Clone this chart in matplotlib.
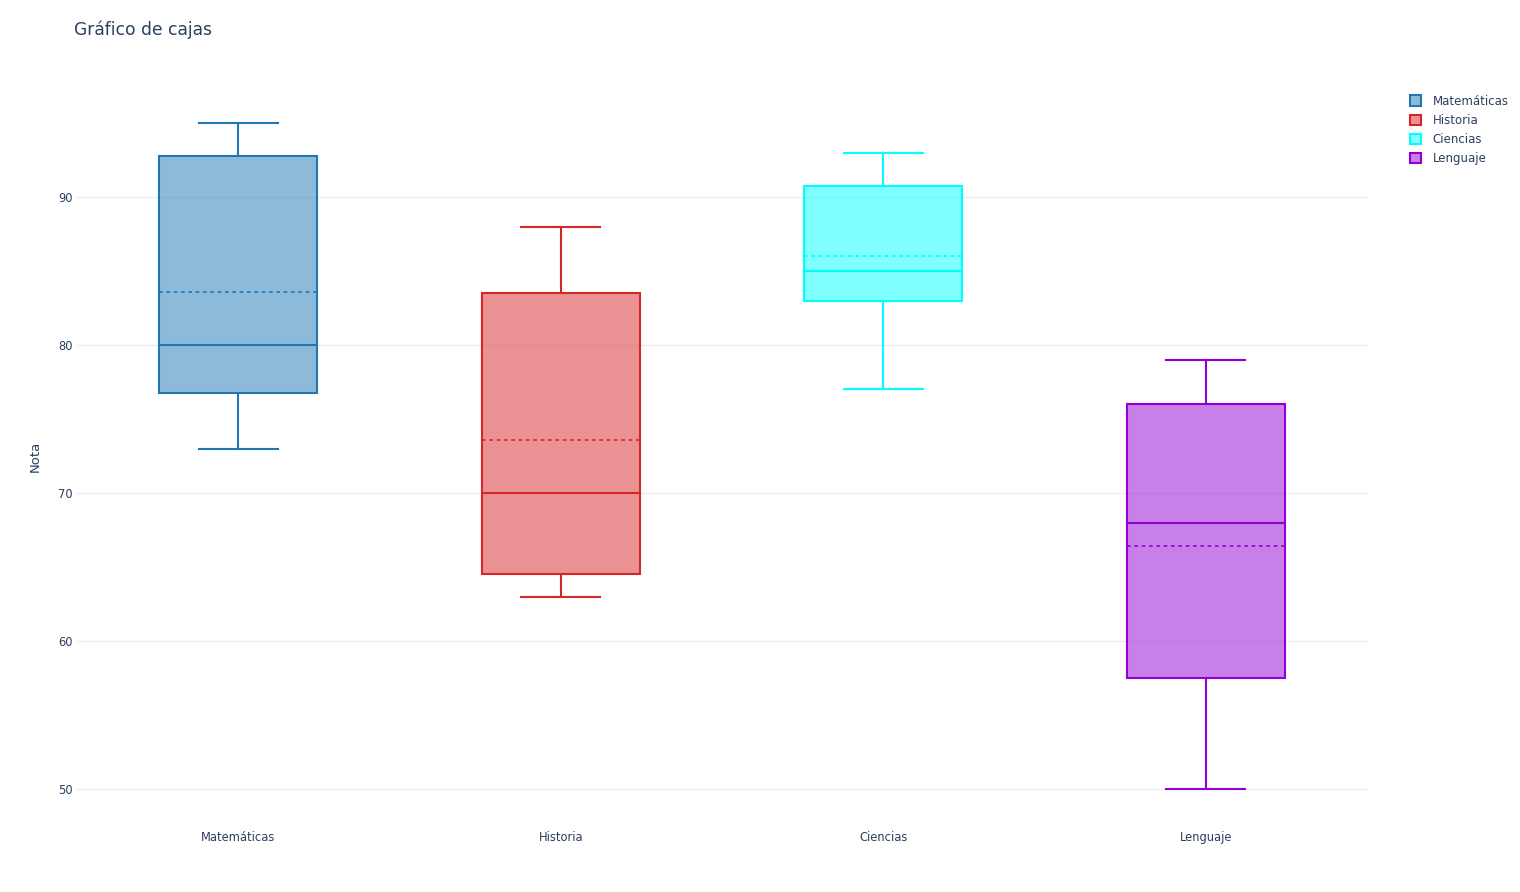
import matplotlib.pyplot as plt
from matplotlib.colors import to_rgb
from matplotlib.patches import Patch

# box statistics
materias = ['Matemáticas', 'Historia', 'Ciencias', 'Lenguaje']
minimos = [73, 63, 77, 50]
q1 = [76.75, 64.5, 83, 57.5]
medianas = [80, 70, 85, 68]
q3 = [92.75, 83.5, 90.75, 76]
maximos = [95, 88, 93, 79]
medias = [83.6, 73.6, 86, 66.4]
colores = ['#1f77b4', '#d62728', '#00ffff', '#9400d3']

plt.rcParams['font.family'] = ['DejaVu Sans']
txt = '#2a3f5f'

fig = plt.figure(figsize=(15.2, 8.92), dpi=100)
ax = fig.add_axes([77/1520, 80/892, 1290/1520, 712/892])

for i, nombre in enumerate(materias):
    stats = [{'whislo': minimos[i], 'q1': q1[i], 'med': medianas[i],
              'q3': q3[i], 'whishi': maximos[i], 'mean': medias[i],
              'fliers': [], 'label': nombre}]
    c = colores[i]
    ax.bxp(stats, positions=[i], widths=0.49, patch_artist=True,
           showmeans=True, meanline=True, showfliers=False,
           boxprops=dict(facecolor=(*to_rgb(c), 0.5), edgecolor=c, linewidth=1.5),
           whiskerprops=dict(color=c, linewidth=1.5),
           capprops=dict(color=c, linewidth=1.5),
           medianprops=dict(color=c, linewidth=1.5),
           meanprops=dict(color=c, linewidth=1.2, linestyle=(0, (2.2, 2.2))),
           capwidths=0.245, zorder=3)

ax.set_xlim(-0.5, 3.5)
ax.set_ylim(48.45, 96.55)
ax.set_yticks([50, 60, 70, 80, 90])
ax.set_xticks(range(4))
ax.set_xticklabels(materias)
ax.grid(axis='y', color='#eeeeee', linewidth=1, zorder=0)
ax.set_axisbelow(True)
for s in ax.spines.values():
    s.set_visible(False)
ax.tick_params(axis='both', length=0, labelsize=8.3, colors=txt)
ax.tick_params(axis='y', pad=3)
ax.tick_params(axis='x', pad=14)
ax.set_ylabel('Nota', fontsize=9.5, color=txt, labelpad=12)

fig.text(74/1520, 1 - 30/892, 'Gráfico de cajas', fontsize=12.3, color=txt,
         va='center', ha='left')

handles = [Patch(facecolor=(*to_rgb(c), 0.5), edgecolor=c, linewidth=1.5, label=m)
           for m, c in zip(materias, colores)]
leg = fig.legend(handles=handles, loc='upper left', bbox_to_anchor=(1399/1520, 1 - 84/892),
                 frameon=False, fontsize=8.5, handlelength=0.95, handleheight=0.95,
                 handletextpad=1.0, labelspacing=0.52)
for t in leg.get_texts():
    t.set_color(txt)

fig.savefig('out.png', dpi=100)
